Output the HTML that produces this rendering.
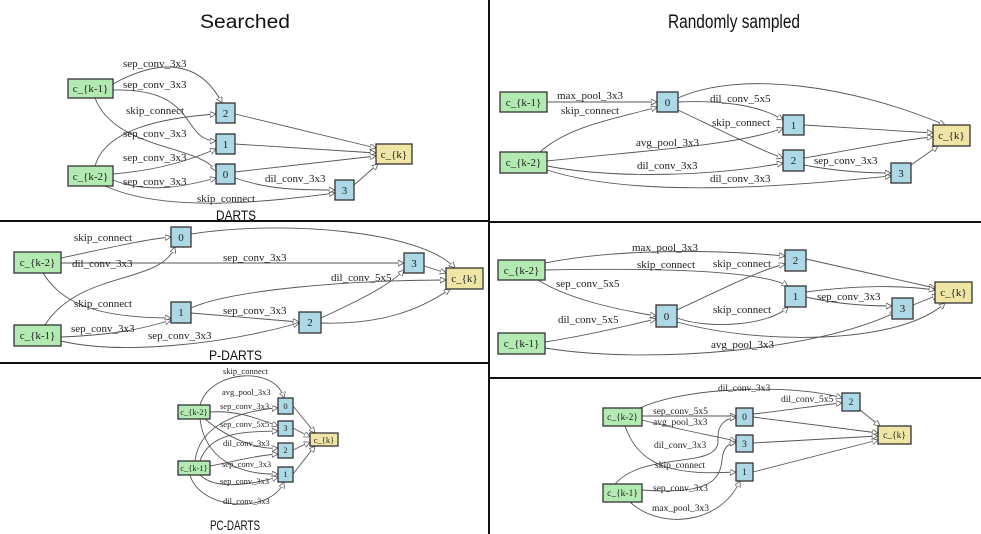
<!DOCTYPE html>
<html><head><meta charset="utf-8"><style>
html,body{margin:0;padding:0;background:#fff;}
svg{display:block;}
.e{fill:none;stroke:#555;stroke-width:0.9;marker-end:url(#a);}
.l{font-family:"Liberation Serif",serif;font-size:11px;fill:#222;}
.s{font-family:"Liberation Serif",serif;font-size:8.5px;fill:#222;}
.m{font-family:"Liberation Serif",serif;font-size:9.5px;fill:#222;}
.g{fill:#b2eab2;stroke:#333;stroke-width:1.3;}
.b{fill:#add8e6;stroke:#333;stroke-width:1.3;}
.y{fill:#efe6a6;stroke:#333;stroke-width:1.3;}
.t{font-family:"Liberation Sans",sans-serif;fill:#111;}
.n{font-family:"Liberation Serif",serif;font-size:11px;fill:#222;text-anchor:middle;}
.ns{font-family:"Liberation Serif",serif;font-size:8.5px;fill:#222;text-anchor:middle;}
.nm{font-family:"Liberation Serif",serif;font-size:9.5px;fill:#222;text-anchor:middle;}
</style></head><body>
<svg width="981" height="534" viewBox="0 0 981 534" xmlns="http://www.w3.org/2000/svg">
<defs><marker id="a" markerUnits="userSpaceOnUse" markerWidth="8" markerHeight="8" refX="6" refY="3" orient="auto"><path d="M0,0 L6,3 L0,6 Z" fill="#fff" stroke="#555" stroke-width="0.8"/></marker></defs>
<rect width="981" height="534" fill="#fff"/>
<!-- dividers -->
<line x1="489" y1="0" x2="489" y2="534" stroke="#111" stroke-width="2"/>
<line x1="0" y1="221" x2="489" y2="221" stroke="#111" stroke-width="2"/>
<line x1="0" y1="363" x2="489" y2="363" stroke="#111" stroke-width="2"/>
<line x1="489" y1="222" x2="981" y2="222" stroke="#111" stroke-width="2"/>
<line x1="489" y1="378" x2="981" y2="378" stroke="#111" stroke-width="2"/>
<!-- titles -->
<text class="t" x="200" y="28" font-size="19" textLength="90" lengthAdjust="spacingAndGlyphs">Searched</text>
<text class="t" x="668" y="28" font-size="19" textLength="132" lengthAdjust="spacingAndGlyphs">Randomly sampled</text>
<text class="t" x="216" y="220" font-size="14" textLength="40" lengthAdjust="spacingAndGlyphs">DARTS</text>
<text class="t" x="209" y="360" font-size="14" textLength="53" lengthAdjust="spacingAndGlyphs">P-DARTS</text>
<text class="t" x="210" y="530" font-size="14" textLength="50" lengthAdjust="spacingAndGlyphs">PC-DARTS</text>

<!-- DARTS -->
<path class="e" d="M113,84 C160,58 200,60 222,103"/>
<path class="e" d="M113,90 C200,88 180,140 216,141"/>
<path class="e" d="M95,98 C115,150 200,145 216,171"/>
<path class="e" d="M95,166 C105,130 160,118 216,114"/>
<path class="e" d="M113,174 C160,170 190,160 216,149"/>
<path class="e" d="M113,180 C150,195 190,185 216,178"/>
<path class="e" d="M105,186 C170,215 280,200 335,193"/>
<path class="e" d="M235,178 C270,190 300,190 335,190"/>
<path class="e" d="M235,114 L376,148"/>
<path class="e" d="M235,144 L376,153"/>
<path class="e" d="M235,172 L376,156"/>
<path class="e" d="M354,185 L378,164"/>
<rect class="g" x="68" y="79" width="45" height="19"/><text class="n" x="90.5" y="92">c_{k-1}</text>
<rect class="g" x="68" y="166" width="45" height="20"/><text class="n" x="90.5" y="180">c_{k-2}</text>
<rect class="b" x="216" y="103" width="19" height="20"/><text class="n" x="225.5" y="117">2</text>
<rect class="b" x="216" y="134" width="19" height="20"/><text class="n" x="225.5" y="148">1</text>
<rect class="b" x="216" y="164" width="19" height="20"/><text class="n" x="225.5" y="178">0</text>
<rect class="b" x="335" y="180" width="19" height="20"/><text class="n" x="344.5" y="194">3</text>
<rect class="y" x="376" y="144" width="36" height="20"/><text class="n" x="394" y="158">c_{k}</text>
<text class="l" x="123" y="67">sep_conv_3x3</text>
<text class="l" x="123" y="88">sep_conv_3x3</text>
<text class="l" x="126" y="114">skip_connect</text>
<text class="l" x="123" y="137">sep_conv_3x3</text>
<text class="l" x="123" y="161">sep_conv_3x3</text>
<text class="l" x="123" y="185">sep_conv_3x3</text>
<text class="l" x="265" y="182">dil_conv_3x3</text>
<text class="l" x="197" y="202">skip_connect</text>

<!-- P-DARTS -->
<path class="e" d="M61,258 C100,250 140,240 171,237"/>
<path class="e" d="M61,263 L404,263"/>
<path class="e" d="M43,273 C60,300 90,318 171,318"/>
<path class="e" d="M45,325 C80,270 160,285 175,247"/>
<path class="e" d="M61,337 C110,335 140,330 171,320"/>
<path class="e" d="M61,341 C120,355 220,345 299,323"/>
<path class="e" d="M191,313 L299,322"/>
<path class="e" d="M191,308 C230,290 350,280 446,280"/>
<path class="e" d="M321,318 C360,300 390,285 404,270"/>
<path class="e" d="M191,234 C280,220 420,230 455,268"/>
<path class="e" d="M424,266 L446,273"/>
<path class="e" d="M321,323 C380,325 420,310 450,289"/>
<rect class="g" x="14" y="252" width="47" height="21"/><text class="n" x="37.5" y="266">c_{k-2}</text>
<rect class="g" x="14" y="325" width="47" height="21"/><text class="n" x="37.5" y="339">c_{k-1}</text>
<rect class="b" x="171" y="227" width="20" height="20"/><text class="n" x="181" y="241">0</text>
<rect class="b" x="171" y="302" width="20" height="21"/><text class="n" x="181" y="316">1</text>
<rect class="b" x="299" y="312" width="22" height="21"/><text class="n" x="310" y="326">2</text>
<rect class="b" x="404" y="253" width="20" height="20"/><text class="n" x="414" y="267">3</text>
<rect class="y" x="446" y="268" width="37" height="21"/><text class="n" x="464.5" y="282">c_{k}</text>
<text class="l" x="74" y="241">skip_connect</text>
<text class="l" x="72" y="267">dil_conv_3x3</text>
<text class="l" x="223" y="261">sep_conv_3x3</text>
<text class="l" x="331" y="281">dil_conv_5x5</text>
<text class="l" x="74" y="307">skip_connect</text>
<text class="l" x="223" y="314">sep_conv_3x3</text>
<text class="l" x="71" y="332">sep_conv_3x3</text>
<text class="l" x="148" y="339">sep_conv_3x3</text>

<!-- PC-DARTS -->
<path class="e" d="M200,405 C210,370 275,365 284,398"/>
<path class="e" d="M195,461 C200,420 250,410 278,408"/>
<path class="e" d="M210,412 C240,410 260,420 278,426"/>
<path class="e" d="M200,461 C210,430 250,432 278,431"/>
<path class="e" d="M205,419 C230,440 260,450 278,448"/>
<path class="e" d="M210,466 C240,460 260,455 278,454"/>
<path class="e" d="M200,419 C205,460 240,475 278,474"/>
<path class="e" d="M200,475 C215,490 250,485 278,477"/>
<path class="e" d="M190,475 C200,510 270,515 284,482"/>
<path class="e" d="M293,406 L315,433"/>
<path class="e" d="M293,428 L310,437"/>
<path class="e" d="M293,450 L310,442"/>
<path class="e" d="M293,474 L315,446"/>
<rect class="g" x="178" y="405" width="32" height="14"/><text class="ns" x="194" y="415">c_{k-2}</text>
<rect class="g" x="178" y="461" width="32" height="14"/><text class="ns" x="194" y="471">c_{k-1}</text>
<rect class="b" x="278" y="398" width="15" height="16"/><text class="ns" x="285.5" y="409">0</text>
<rect class="b" x="278" y="421" width="15" height="15"/><text class="ns" x="285.5" y="431">3</text>
<rect class="b" x="278" y="443" width="15" height="15"/><text class="ns" x="285.5" y="453">2</text>
<rect class="b" x="278" y="467" width="15" height="15"/><text class="ns" x="285.5" y="477">1</text>
<rect class="y" x="310" y="433" width="28" height="13"/><text class="ns" x="324" y="443">c_{k}</text>
<text class="s" x="223" y="374">skip_connect</text>
<text class="s" x="222" y="395">avg_pool_3x3</text>
<text class="s" x="220" y="409">sep_conv_3x3</text>
<text class="s" x="220" y="427">sep_conv_5x5</text>
<text class="s" x="223" y="446">dil_conv_3x3</text>
<text class="s" x="222" y="467">sep_conv_3x3</text>
<text class="s" x="220" y="484">sep_conv_3x3</text>
<text class="s" x="223" y="504">dil_conv_3x3</text>

<!-- Random 1 -->
<path class="e" d="M547,102 L657,102"/>
<path class="e" d="M540,152 C570,125 620,118 657,107"/>
<path class="e" d="M547,161 C650,150 740,145 783,128"/>
<path class="e" d="M547,166 C620,180 720,175 783,163"/>
<path class="e" d="M547,170 C640,200 800,185 891,176"/>
<path class="e" d="M678,102 C720,100 760,105 783,120"/>
<path class="e" d="M678,110 C720,130 760,150 783,158"/>
<path class="e" d="M678,98 C740,70 850,85 945,125"/>
<path class="e" d="M804,125 L933,133"/>
<path class="e" d="M804,158 C850,150 900,140 933,137"/>
<path class="e" d="M804,165 C840,172 870,173 891,173"/>
<path class="e" d="M911,165 L938,146"/>
<rect class="g" x="500" y="92" width="47" height="20"/><text class="n" x="523.5" y="106">c_{k-1}</text>
<rect class="g" x="500" y="152" width="47" height="21"/><text class="n" x="523.5" y="166">c_{k-2}</text>
<rect class="b" x="657" y="92" width="21" height="20"/><text class="n" x="667.5" y="106">0</text>
<rect class="b" x="783" y="115" width="21" height="20"/><text class="n" x="793.5" y="129">1</text>
<rect class="b" x="783" y="150" width="21" height="21"/><text class="n" x="793.5" y="164">2</text>
<rect class="b" x="891" y="163" width="20" height="20"/><text class="n" x="901" y="177">3</text>
<rect class="y" x="933" y="125" width="37" height="21"/><text class="n" x="951.5" y="139">c_{k}</text>
<text class="l" x="557" y="99">max_pool_3x3</text>
<text class="l" x="561" y="114">skip_connect</text>
<text class="l" x="710" y="102">dil_conv_5x5</text>
<text class="l" x="712" y="126">skip_connect</text>
<text class="l" x="636" y="146">avg_pool_3x3</text>
<text class="l" x="637" y="169">dil_conv_3x3</text>
<text class="l" x="814" y="164">sep_conv_3x3</text>
<text class="l" x="710" y="182">dil_conv_3x3</text>

<!-- Random 2 -->
<path class="e" d="M545,263 C620,248 720,250 785,256"/>
<path class="e" d="M545,270 C650,268 760,270 788,286"/>
<path class="e" d="M538,280 C570,300 620,310 656,316"/>
<path class="e" d="M545,342 C590,335 630,325 656,319"/>
<path class="e" d="M545,348 C650,365 820,350 896,312"/>
<path class="e" d="M677,310 C720,290 760,270 785,264"/>
<path class="e" d="M677,318 C710,330 770,325 788,307"/>
<path class="e" d="M677,322 C760,345 900,345 945,303"/>
<path class="e" d="M806,259 L935,288"/>
<path class="e" d="M806,292 C860,285 900,285 935,290"/>
<path class="e" d="M806,297 C840,305 870,306 892,306"/>
<path class="e" d="M913,305 L938,295"/>
<rect class="g" x="498" y="260" width="47" height="20"/><text class="n" x="521.5" y="274">c_{k-2}</text>
<rect class="g" x="498" y="333" width="47" height="21"/><text class="n" x="521.5" y="347">c_{k-1}</text>
<rect class="b" x="656" y="305" width="21" height="22"/><text class="n" x="666.5" y="320">0</text>
<rect class="b" x="785" y="250" width="21" height="21"/><text class="n" x="795.5" y="264">2</text>
<rect class="b" x="785" y="286" width="21" height="21"/><text class="n" x="795.5" y="300">1</text>
<rect class="b" x="892" y="298" width="21" height="21"/><text class="n" x="902.5" y="312">3</text>
<rect class="y" x="935" y="282" width="37" height="21"/><text class="n" x="953.5" y="296">c_{k}</text>
<text class="l" x="632" y="251">max_pool_3x3</text>
<text class="l" x="637" y="268">skip_connect</text>
<text class="l" x="713" y="267">skip_connect</text>
<text class="l" x="556" y="287">sep_conv_5x5</text>
<text class="l" x="817" y="300">sep_conv_3x3</text>
<text class="l" x="713" y="313">skip_connect</text>
<text class="l" x="558" y="323">dil_conv_5x5</text>
<text class="l" x="711" y="348">avg_pool_3x3</text>

<!-- Random 3 -->
<path class="e" d="M640,408 C690,385 800,385 842,398"/>
<path class="e" d="M642,416 L736,416"/>
<path class="e" d="M642,420 C680,430 710,435 736,441"/>
<path class="e" d="M625,426 C640,470 680,475 736,472"/>
<path class="e" d="M615,484 C645,450 720,470 718,440 C717,425 725,418 736,418"/>
<path class="e" d="M642,490 C710,495 720,480 722,460 C723,448 728,443 736,443"/>
<path class="e" d="M630,502 C660,530 720,525 740,481"/>
<path class="e" d="M753,414 C790,410 820,405 842,403"/>
<path class="e" d="M753,417 L878,433"/>
<path class="e" d="M753,443 L878,436"/>
<path class="e" d="M753,472 L878,440"/>
<path class="e" d="M860,410 L880,426"/>
<rect class="g" x="603" y="408" width="39" height="18"/><text class="nm" x="622.5" y="420">c_{k-2}</text>
<rect class="g" x="603" y="484" width="39" height="18"/><text class="nm" x="622.5" y="496">c_{k-1}</text>
<rect class="b" x="736" y="408" width="17" height="18"/><text class="nm" x="744.5" y="420">0</text>
<rect class="b" x="736" y="435" width="17" height="17"/><text class="nm" x="744.5" y="447">3</text>
<rect class="b" x="736" y="463" width="17" height="18"/><text class="nm" x="744.5" y="475">1</text>
<rect class="b" x="842" y="393" width="18" height="18"/><text class="nm" x="851" y="405">2</text>
<rect class="y" x="878" y="426" width="33" height="18"/><text class="nm" x="894.5" y="438">c_{k}</text>
<text class="m" x="718" y="391">dil_conv_3x3</text>
<text class="m" x="781" y="402">dil_conv_5x5</text>
<text class="m" x="653" y="414">sep_conv_5x5</text>
<text class="m" x="653" y="425">avg_pool_3x3</text>
<text class="m" x="654" y="448">dil_conv_3x3</text>
<text class="m" x="655" y="468">skip_connect</text>
<text class="m" x="653" y="491">sep_conv_3x3</text>
<text class="m" x="652" y="511">max_pool_3x3</text>
</svg>
</body></html>
